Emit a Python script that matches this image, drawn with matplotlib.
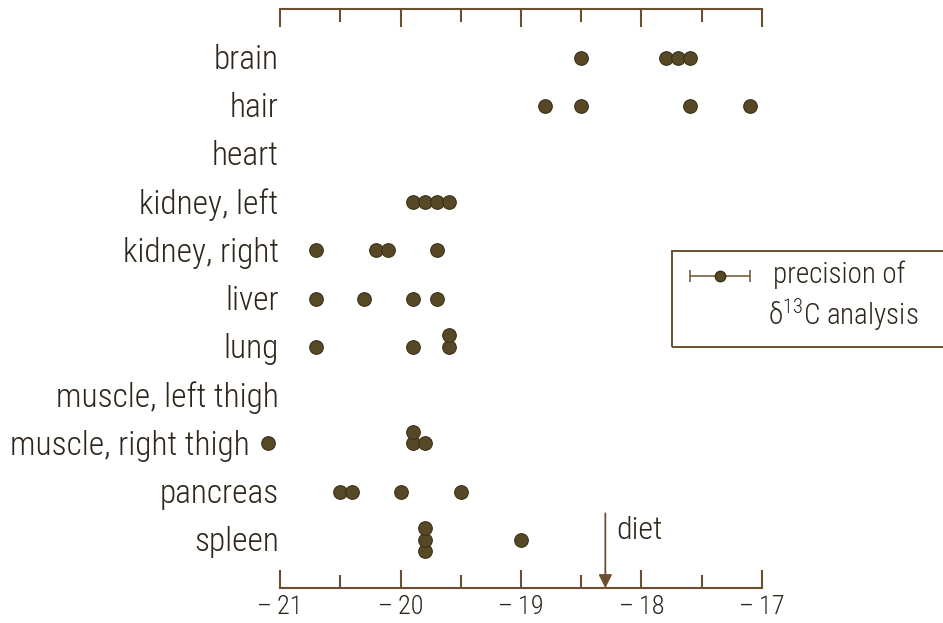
import matplotlib.pyplot as plt
import matplotlib.transforms as mtransforms
from matplotlib.patches import Rectangle
from matplotlib.ticker import MultipleLocator
from collections import Counter

plt.rcParams['font.family'] = ['Roboto Condensed', 'Liberation Sans', 'DejaVu Sans']
plt.rcParams['font.weight'] = 'light'

tissues = ["brain", "hair", "heart", "kidney, left", "kidney, right", "liver",
           "lung", "muscle, left thigh", "muscle, right thigh", "pancreas", "spleen"]

# delta 13C values per tissue (per mil)
brain = [-18.5, -17.8, -17.7, -17.6]
hair = [-18.8, -18.5, -17.6, -17.1]
heart = []
kidney_left = [-19.9, -19.8, -19.7, -19.6]
kidney_right = [-20.7, -20.2, -20.1, -19.7]
liver = [-20.7, -20.3, -19.9, -19.7]
lung = [-20.7, -19.9, -19.6, -19.6]
muscle_left_thigh = []
muscle_right_thigh = [-21.1, -19.9, -19.9, -19.8]
pancreas = [-20.5, -20.4, -20.0, -19.5]
spleen = [-19.8, -19.8, -19.8, -19.0]

values = [brain, hair, heart, kidney_left, kidney_right, liver, lung,
          muscle_left_thigh, muscle_right_thigh, pancreas, spleen]

diet = -18.3
precision = 0.25
xticks = [-21, -20, -19, -18, -17]

AXIS_COLOR = "#6b5030"
TEXT_COLOR = "#2e261c"
DOT_FACE = "#574826"
DOT_EDGE = "#3a2f18"
STACK = 0.24  # vertical spacing for tied values

fig = plt.figure(figsize=(9.43, 6.23), dpi=100)
ax = fig.add_axes([0.297, 0.056, 0.511, 0.929])

# tied values are stacked vertically around the row
xs, ys = [], []
for row, vals in enumerate(values):
    counts = Counter(vals)
    seen = Counter()
    for v in vals:
        n = counts[v]
        k = seen[v]
        seen[v] += 1
        xs.append(v)
        ys.append(row + ((n - 1) // 2 - k) * STACK)

ax.plot(xs, ys, "o", ms=9.8, mfc=DOT_FACE, mec=DOT_EDGE, mew=0.8,
        clip_on=False, zorder=3)

ax.set_xlim(-21, -17)
ax.set_ylim(11, -1)

for side in ["left", "right"]:
    ax.spines[side].set_visible(False)
for side in ["top", "bottom"]:
    ax.spines[side].set_color(AXIS_COLOR)
    ax.spines[side].set_linewidth(1.5)

ax.set_xticks(xticks)
ax.set_xticklabels(["\u2013\u2009" + str(abs(t)) for t in xticks])
ax.xaxis.set_minor_locator(MultipleLocator(0.5))
ax.tick_params(axis="x", which="both", direction="in", top=True, bottom=True,
               color=AXIS_COLOR, width=1.5, labelsize=19, labelcolor=TEXT_COLOR,
               pad=5)
ax.tick_params(axis="x", which="major", length=13)
ax.tick_params(axis="x", which="minor", length=9.5)
ax.set_yticks([])

# tissue names to the left of the axis
label_trans = mtransforms.blended_transform_factory(ax.transAxes, ax.transData)
for row, name in enumerate(tissues):
    shift = -22 if name == "muscle, right thigh" else -1
    trans = mtransforms.offset_copy(label_trans, fig=fig, x=shift, y=0, units="points")
    ax.text(0, row + 0.05, name, transform=trans, ha="right", va="center",
            fontsize=24, color=TEXT_COLOR)

# diet marker
ax.annotate("", xy=(diet, 11), xytext=(diet, 9.45),
            arrowprops=dict(arrowstyle="-|>", color=AXIS_COLOR, lw=1.3,
                            mutation_scale=20, shrinkA=0, shrinkB=0))
ax.annotate("diet", xy=(diet, 9.8), xytext=(8, 0), textcoords="offset points",
            va="center", ha="left", fontsize=23, color=TEXT_COLOR)

# precision key
eb = ax.errorbar([-17.35], [4.52], xerr=precision, fmt="o", ms=7.5,
                 mfc=DOT_FACE, mec=DOT_EDGE, ecolor=AXIS_COLOR, elinewidth=1.1,
                 capsize=4.5, capthick=1.1)
fig.patches.append(Rectangle((0.7126, 0.443), 0.35, 0.154, transform=fig.transFigure,
                             fill=False, edgecolor=AXIS_COLOR, linewidth=1.4))
fig.text(0.820, 0.5586, "precision of", fontsize=21, color=TEXT_COLOR,
         ha="left", va="center")
fig.text(0.8144, 0.495, r"$\mathregular{\delta^{13}}$C analysis", fontsize=21,
         color=TEXT_COLOR, ha="left", va="center")

fig.savefig("out.png", dpi=100, facecolor="white")
